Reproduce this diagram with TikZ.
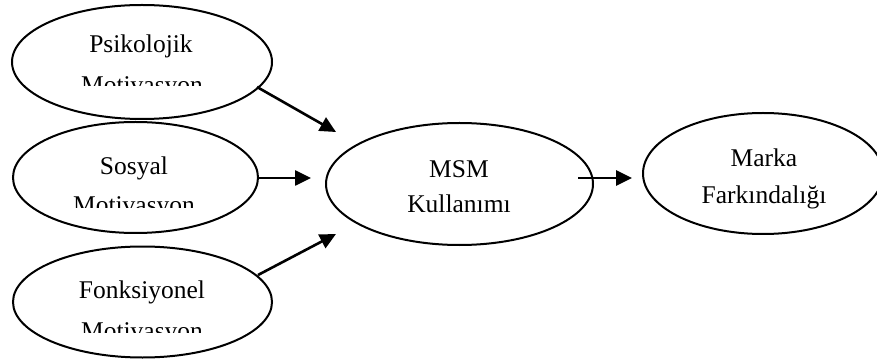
\documentclass[tikz,border=0pt]{standalone}
\usepackage{fontspec}
\setmainfont{Liberation Serif}
\usetikzlibrary{arrows.meta,shapes.geometric}
\begin{document}
\begin{tikzpicture}[x=1pt,y=-1pt,
  ell/.style={draw, ellipse, line width=2pt, inner sep=0pt},
  lbl/.style={anchor=base, inner sep=0pt, font=\fontsize{25.5}{29}\selectfont},
  conn/.style={line width=2.6pt, -{Triangle[length=16pt,width=15pt]}}]
\useasboundingbox (0,0) rectangle (877,363);
% ellipses
\node[ell, minimum width=260pt, minimum height=114pt] (psi) at (142,62) {};
\node[ell, minimum width=245pt, minimum height=111pt] (sos) at (135.5,177.5) {};
\node[ell, minimum width=259pt, minimum height=111pt] (fon) at (142.5,302) {};
\node[ell, minimum width=267pt, minimum height=122pt] (msm) at (459.5,184) {};
\node[ell, minimum width=240pt, minimum height=121pt] (mar) at (763,173.5) {};
% labels
\node[lbl] (psit) at (141,53) {Psikolojik};
\begin{scope}
  \clip (0,0) rectangle (877,86);
  \node[lbl] (psim) at (142,94) {Motivasyon};
\end{scope}
\node[lbl] (sost) at (134,175) {Sosyal};
\begin{scope}
  \clip (0,100) rectangle (877,207.5);
  \node[lbl] (sosm) at (134,214) {Motivasyon};
\end{scope}
\node[lbl] (font) at (142,298) {Fonksiyonel};
\begin{scope}
  \clip (0,300) rectangle (877,332);
  \node[lbl] (fonm) at (142,339) {Motivasyon};
\end{scope}
\node[lbl] (msmt) at (459,178) {MSM};
\node[lbl] (msmk) at (459,213) {Kullanımı};
\node[lbl] (mart) at (764,167) {Marka};
\node[lbl] (marf) at (764,204) {Farkındalığı};
% connectors
\coordinate (a1s) at (257,87);  \coordinate (a1e) at (336,132);
\coordinate (a2s) at (257,178); \coordinate (a2e) at (311,178);
\coordinate (a3s) at (258,275); \coordinate (a3e) at (336,234);
\coordinate (a4s) at (578,178); \coordinate (a4e) at (632,178);
\draw[conn] (a1s) -- (a1e);
\draw[conn] (a2s) -- (a2e);
\draw[conn] (a3s) -- (a3e);
\draw[conn] (a4s) -- (a4e);
\end{tikzpicture}
\end{document}
